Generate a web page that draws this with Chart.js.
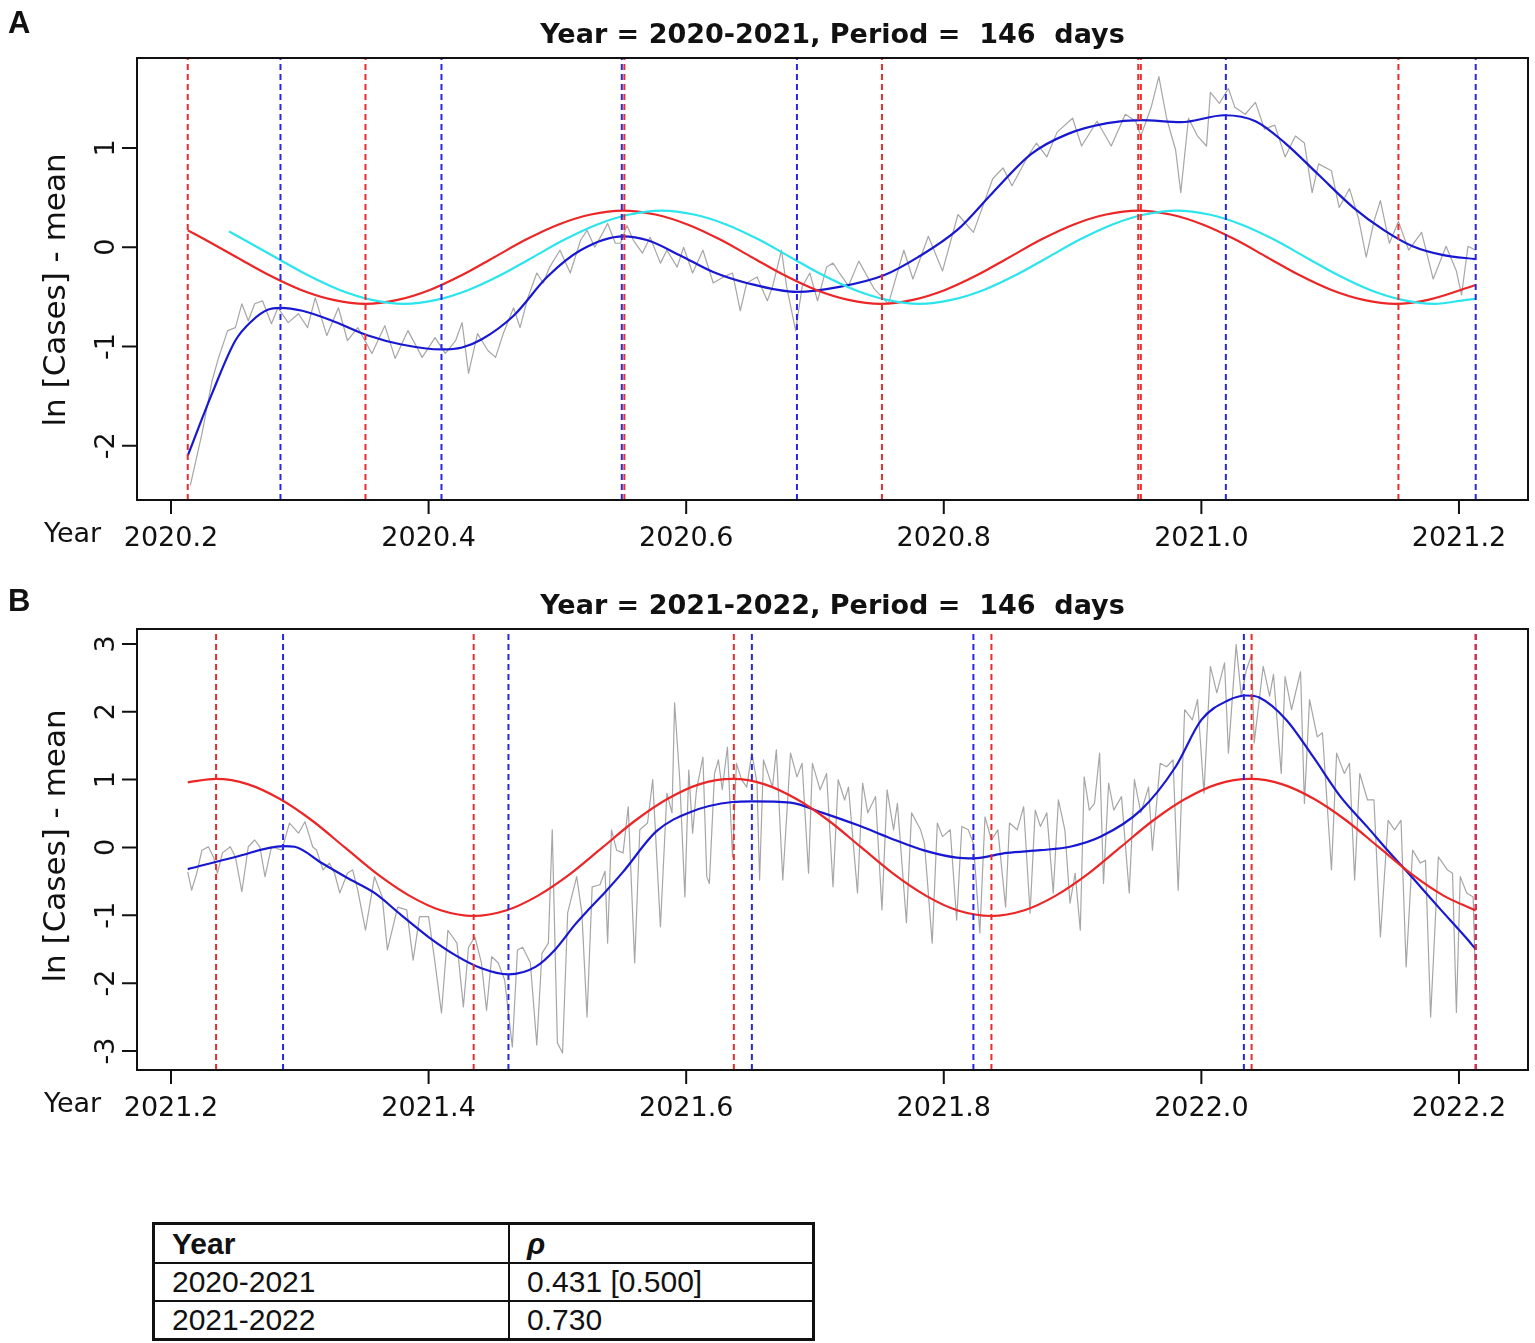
<!DOCTYPE html>
<html>
<head>
<meta charset="utf-8">
<script src="https://cdn.jsdelivr.net/npm/chart.js@4.4.0/dist/chart.umd.min.js"></script>
<style>
  body { margin: 0; background: #fff; width: 1535px; height: 1343px; position: relative; overflow: hidden; }
  canvas { position: absolute; left: 0; }
  #chartA { top: 0; }
  #chartB { top: 575px; }
  #rho { position: absolute; left: 152px; top: 1222px; width: 663px; border-collapse: collapse;
         border: 3px solid #111; font-family: 'Liberation Sans', Arial, sans-serif; font-size: 30px; color: #111; }
  #rho td { border: 2px solid #111; padding: 0 0 0 17px; height: 36px; line-height: 34px; }
  #rho td:first-child { width: 336px; }
  #rho th { border: 2px solid #111; padding: 0 0 0 17px; height: 37px; text-align: left; font-weight: bold; }
</style>
</head>
<body>
<canvas id="chartA" width="1535" height="575"></canvas>
<canvas id="chartB" width="1535" height="575"></canvas>
<table id="rho">
  <tr><th>Year</th><th><i>ρ</i></th></tr>
  <tr><td>2020-2021</td><td>0.431 [0.500]</td></tr>
  <tr><td>2021-2022</td><td>0.730</td></tr>
</table>
<script>
// ---- panel A : 2020-2021 ----
const titleA = 'Year = 2020-2021, Period =  146  days';
const xTicksA = [2020.2, 2020.4, 2020.6, 2020.8, 2021.0, 2021.2];
const yTicksA = [-2, -1, 0, 1];

// daily ln(cases) - mean
const grayA = [
  [2020.215,-2.40],[2020.224,-1.88],[2020.232,-1.34],[2020.237,-1.11],[2020.244,-0.84],[2020.250,-0.81],
  [2020.255,-0.57],[2020.260,-0.74],[2020.265,-0.57],[2020.271,-0.54],[2020.278,-0.77],[2020.283,-0.61],
  [2020.291,-0.76],[2020.299,-0.67],[2020.306,-0.81],[2020.312,-0.51],[2020.321,-0.89],[2020.330,-0.61],
  [2020.337,-0.94],[2020.345,-0.81],[2020.356,-1.07],[2020.366,-0.79],[2020.374,-1.12],[2020.384,-0.84],
  [2020.395,-1.11],[2020.405,-0.91],[2020.413,-1.07],[2020.421,-0.94],[2020.426,-0.76],[2020.431,-1.27],
  [2020.438,-0.87],[2020.446,-1.04],[2020.452,-1.11],[2020.458,-0.87],[2020.466,-0.61],[2020.471,-0.81],
  [2020.477,-0.51],[2020.484,-0.26],[2020.489,-0.36],[2020.494,-0.20],[2020.502,-0.03],[2020.510,-0.26],
  [2020.518,0.07],[2020.523,0.17],[2020.529,0.00],[2020.535,0.14],[2020.539,0.24],[2020.545,0.04],
  [2020.549,0.04],[2020.554,0.22],[2020.559,0.07],[2020.566,-0.06],[2020.572,0.10],[2020.580,-0.16],
  [2020.585,-0.03],[2020.593,-0.20],[2020.598,0.00],[2020.605,-0.26],[2020.613,-0.03],[2020.621,-0.36],
  [2020.629,-0.30],[2020.636,-0.26],[2020.642,-0.64],[2020.647,-0.36],[2020.655,-0.30],[2020.663,-0.54],
  [2020.667,-0.40],[2020.674,-0.03],[2020.678,-0.40],[2020.685,-0.84],[2020.690,-0.40],[2020.696,-0.26],
  [2020.702,-0.54],[2020.709,-0.20],[2020.714,-0.16],[2020.719,-0.26],[2020.726,-0.39],[2020.734,-0.14],
  [2020.746,-0.42],[2020.757,-0.57],[2020.769,-0.03],[2020.776,-0.32],[2020.788,0.11],[2020.799,-0.24],
  [2020.811,0.33],[2020.823,0.15],[2020.838,0.69],[2020.846,0.80],[2020.853,0.62],[2020.865,0.91],
  [2020.872,1.05],[2020.880,0.91],[2020.888,1.16],[2020.900,1.30],[2020.907,1.02],[2020.919,1.27],
  [2020.930,1.02],[2020.941,1.34],[2020.949,1.27],[2020.953,1.12],[2020.961,1.41],[2020.967,1.72],
  [2020.973,1.30],[2020.980,0.98],[2020.984,0.55],[2020.990,1.30],[2020.997,1.12],[2021.004,1.02],
  [2021.007,1.56],[2021.014,1.45],[2021.021,1.60],[2021.026,1.41],[2021.034,1.34],[2021.042,1.46],
  [2021.049,1.19],[2021.057,1.23],[2021.065,0.91],[2021.073,1.12],[2021.080,1.05],[2021.086,0.55],
  [2021.091,0.84],[2021.101,0.77],[2021.107,0.40],[2021.115,0.59],[2021.122,0.29],[2021.128,-0.10],
  [2021.134,0.26],[2021.139,0.47],[2021.146,0.04],[2021.153,0.26],[2021.161,-0.03],[2021.171,0.15],
  [2021.180,-0.32],[2021.190,0.01],[2021.198,-0.24],[2021.202,-0.48],[2021.207,0.01],[2021.213,-0.03]
];

// smooth fit (blue)
const smoothA = [
  [2020.213,-2.10],[2020.232,-1.47],[2020.250,-0.94],[2020.263,-0.74],[2020.275,-0.63],[2020.285,-0.61],
  [2020.302,-0.64],[2020.327,-0.75],[2020.353,-0.89],[2020.379,-0.98],[2020.410,-1.03],[2020.426,-1.01],
  [2020.441,-0.93],[2020.466,-0.69],[2020.492,-0.30],[2020.518,-0.03],[2020.551,0.11],[2020.570,0.07],
  [2020.595,-0.08],[2020.621,-0.25],[2020.647,-0.36],[2020.686,-0.45],[2020.719,-0.40],[2020.754,-0.28],
  [2020.780,-0.10],[2020.811,0.18],[2020.838,0.55],[2020.868,0.94],[2020.896,1.14],[2020.927,1.25],
  [2020.953,1.28],[2020.984,1.26],[2021.018,1.33],[2021.042,1.27],[2021.065,1.05],[2021.091,0.73],
  [2021.118,0.40],[2021.142,0.17],[2021.164,0.01],[2021.188,-0.08],[2021.213,-0.12]
];

// cosinor fit (red)
const cosA = [
  [2020.213,0.17],[2020.226,0.08],[2020.251,-0.10],[2020.276,-0.28],[2020.301,-0.43],[2020.326,-0.53],
  [2020.351,-0.57],[2020.376,-0.53],[2020.401,-0.43],[2020.426,-0.28],[2020.451,-0.10],[2020.476,0.08],
  [2020.501,0.23],[2020.526,0.33],[2020.551,0.37],[2020.576,0.33],[2020.601,0.23],[2020.626,0.08],
  [2020.651,-0.10],[2020.676,-0.28],[2020.701,-0.43],[2020.726,-0.53],[2020.751,-0.57],[2020.776,-0.53],
  [2020.801,-0.43],[2020.826,-0.28],[2020.851,-0.10],[2020.876,0.08],[2020.901,0.23],[2020.926,0.33],
  [2020.951,0.37],[2020.976,0.33],[2021.001,0.23],[2021.026,0.08],[2021.051,-0.10],[2021.076,-0.28],
  [2021.101,-0.43],[2021.126,-0.53],[2021.151,-0.57],[2021.176,-0.53],[2021.213,-0.38]
];

// second cosinor (cyan)
const cos2A = [
  [2020.245,0.16],[2020.256,0.08],[2020.281,-0.10],[2020.306,-0.28],[2020.331,-0.43],[2020.356,-0.53],
  [2020.381,-0.57],[2020.406,-0.53],[2020.431,-0.43],[2020.456,-0.28],[2020.481,-0.10],[2020.506,0.08],
  [2020.531,0.23],[2020.556,0.33],[2020.581,0.37],[2020.606,0.33],[2020.631,0.23],[2020.656,0.08],
  [2020.681,-0.10],[2020.706,-0.28],[2020.731,-0.43],[2020.756,-0.53],[2020.781,-0.57],[2020.806,-0.53],
  [2020.831,-0.43],[2020.856,-0.28],[2020.881,-0.10],[2020.906,0.08],[2020.931,0.23],[2020.956,0.33],
  [2020.981,0.37],[2021.006,0.33],[2021.031,0.23],[2021.056,0.08],[2021.081,-0.10],[2021.106,-0.28],
  [2021.131,-0.43],[2021.156,-0.53],[2021.181,-0.57],[2021.206,-0.53],[2021.213,-0.52]
];

const redLinesA = [2020.213, 2020.351, 2020.552, 2020.752, 2020.951, 2020.953, 2021.153];
const blueLinesA = [2020.285, 2020.410, 2020.550, 2020.686, 2021.019, 2021.213];

// ---- panel B : 2021-2022 ----
const titleB = 'Year = 2021-2022, Period =  146  days';
const xTicksB = [2021.2, 2021.4, 2021.6, 2021.8, 2022.0, 2022.2];
const yTicksB = [-3, -2, -1, 0, 1, 2, 3];

const grayB = [
  [2021.213,-0.36],[2021.216,-0.63],[2021.220,-0.38],[2021.224,-0.04],[2021.229,0.01],[2021.233,-0.14],
  [2021.236,-0.38],[2021.240,-0.08],[2021.246,0.01],[2021.250,-0.14],[2021.255,-0.65],[2021.260,0.01],
  [2021.265,0.11],[2021.269,0.01],[2021.273,-0.43],[2021.278,0.01],[2021.286,-0.04],[2021.292,0.36],
  [2021.299,0.21],[2021.304,0.38],[2021.310,0.01],[2021.313,-0.04],[2021.318,-0.33],[2021.323,-0.23],
  [2021.327,-0.38],[2021.331,-0.67],[2021.337,-0.38],[2021.341,-0.33],[2021.345,-0.63],[2021.351,-1.22],
  [2021.358,-0.43],[2021.364,-0.73],[2021.368,-1.51],[2021.376,-0.88],[2021.383,-0.92],[2021.388,-1.66],
  [2021.393,-1.02],[2021.400,-1.02],[2021.405,-1.70],[2021.410,-2.44],[2021.415,-1.22],[2021.422,-1.41],
  [2021.427,-2.35],[2021.431,-1.47],[2021.436,-1.32],[2021.441,-1.70],[2021.445,-2.40],[2021.449,-1.61],
  [2021.454,-1.70],[2021.459,-1.95],[2021.465,-2.94],[2021.469,-1.51],[2021.473,-1.47],[2021.479,-1.70],
  [2021.484,-2.91],[2021.488,-1.56],[2021.493,-1.41],[2021.496,0.26],[2021.500,-2.88],[2021.504,-3.03],
  [2021.508,-0.96],[2021.515,-0.43],[2021.519,-0.96],[2021.523,-2.50],[2021.527,-0.58],[2021.533,-0.55],
  [2021.537,-0.35],[2021.539,-1.41],[2021.542,0.26],[2021.546,-0.04],[2021.551,-0.08],[2021.555,0.60],
  [2021.560,-1.70],[2021.564,0.26],[2021.570,0.36],[2021.574,1.00],[2021.580,-1.17],[2021.585,0.80],
  [2021.589,0.51],[2021.591,2.13],[2021.595,1.00],[2021.599,-0.73],[2021.602,1.14],[2021.605,0.21],
  [2021.608,0.85],[2021.613,1.33],[2021.616,-0.43],[2021.618,-0.53],[2021.622,1.09],[2021.625,1.29],
  [2021.628,0.85],[2021.632,1.48],[2021.636,-0.14],[2021.639,1.24],[2021.643,1.00],[2021.647,0.89],
  [2021.651,1.39],[2021.655,0.95],[2021.657,-0.48],[2021.660,1.29],[2021.667,0.89],[2021.670,1.44],
  [2021.675,-0.48],[2021.681,1.39],[2021.686,1.04],[2021.690,1.24],[2021.695,-0.38],[2021.698,1.24],
  [2021.704,0.85],[2021.709,1.09],[2021.714,-0.58],[2021.718,1.00],[2021.723,0.70],[2021.726,0.89],
  [2021.733,-0.67],[2021.737,0.95],[2021.741,0.51],[2021.747,0.75],[2021.752,-0.92],[2021.756,0.85],
  [2021.761,0.26],[2021.764,0.65],[2021.771,-1.11],[2021.775,0.51],[2021.782,0.26],[2021.785,0.06],
  [2021.791,-1.41],[2021.795,0.36],[2021.799,0.16],[2021.805,0.26],[2021.810,-1.07],[2021.814,0.31],
  [2021.819,0.26],[2021.823,0.06],[2021.828,-1.26],[2021.832,0.45],[2021.837,0.11],[2021.842,0.26],
  [2021.848,-0.88],[2021.851,0.36],[2021.857,0.26],[2021.862,0.60],[2021.867,-0.97],[2021.871,0.55],
  [2021.875,0.31],[2021.880,0.51],[2021.885,-0.67],[2021.889,0.70],[2021.894,0.26],[2021.898,-0.82],
  [2021.902,-0.38],[2021.906,-1.22],[2021.909,1.04],[2021.913,0.55],[2021.917,0.65],[2021.921,1.39],
  [2021.924,-0.53],[2021.928,0.95],[2021.932,0.55],[2021.938,0.75],[2021.944,-0.67],[2021.948,1.00],
  [2021.953,0.51],[2021.959,0.89],[2021.962,-0.04],[2021.968,1.24],[2021.973,1.19],[2021.978,1.29],
  [2021.982,-0.63],[2021.987,2.03],[2021.993,1.88],[2021.997,2.18],[2022.002,0.80],[2022.007,2.67],
  [2022.012,2.28],[2022.018,2.72],[2022.021,1.39],[2022.027,2.99],[2022.031,2.23],[2022.035,2.62],
  [2022.039,2.84],[2022.041,1.54],[2022.048,2.67],[2022.053,2.23],[2022.056,2.55],[2022.062,1.09],
  [2022.065,2.52],[2022.070,2.03],[2022.077,2.59],[2022.080,0.65],[2022.084,2.18],[2022.090,1.63],
  [2022.094,1.69],[2022.101,-0.33],[2022.105,1.39],[2022.111,1.09],[2022.115,1.24],[2022.119,-0.48],
  [2022.123,1.09],[2022.129,0.70],[2022.134,0.70],[2022.139,-1.32],[2022.145,0.40],[2022.150,0.26],
  [2022.155,0.40],[2022.159,-1.76],[2022.164,-0.04],[2022.170,-0.23],[2022.174,-0.19],[2022.178,-2.50],
  [2022.184,-0.14],[2022.191,-0.33],[2022.195,-0.38],[2022.198,-2.43],[2022.201,-0.43],[2022.206,-0.67],
  [2022.211,-0.73],[2022.213,-2.10]
];

const smoothB = [
  [2021.213,-0.32],[2021.250,-0.14],[2021.287,0.02],[2021.296,0.01],[2021.317,-0.23],[2021.337,-0.45],
  [2021.358,-0.67],[2021.379,-1.00],[2021.400,-1.32],[2021.421,-1.59],[2021.441,-1.78],[2021.462,-1.87],
  [2021.483,-1.76],[2021.498,-1.51],[2021.514,-1.13],[2021.525,-0.90],[2021.537,-0.66],[2021.551,-0.36],
  [2021.577,0.24],[2021.603,0.52],[2021.636,0.67],[2021.651,0.68],[2021.681,0.66],[2021.706,0.51],
  [2021.733,0.33],[2021.758,0.14],[2021.784,-0.04],[2021.810,-0.15],[2021.823,-0.16],[2021.849,-0.08],
  [2021.875,-0.04],[2021.898,0.01],[2021.922,0.16],[2021.953,0.55],[2021.980,1.19],[2022.000,1.88],
  [2022.021,2.17],[2022.035,2.24],[2022.045,2.21],[2022.066,1.88],[2022.087,1.33],[2022.108,0.75],
  [2022.129,0.30],[2022.144,-0.03],[2022.165,-0.47],[2022.186,-0.92],[2022.205,-1.32],[2022.213,-1.50]
];

const cosB = [
  [2021.213,0.96],[2021.235,1.01],[2021.260,0.93],[2021.285,0.71],[2021.310,0.39],[2021.335,0.00],
  [2021.360,-0.39],[2021.385,-0.71],[2021.410,-0.93],[2021.435,-1.01],[2021.460,-0.93],[2021.485,-0.71],
  [2021.510,-0.39],[2021.535,0.00],[2021.560,0.39],[2021.585,0.71],[2021.610,0.93],[2021.636,1.01],
  [2021.661,0.93],[2021.686,0.71],[2021.711,0.39],[2021.736,0.00],[2021.761,-0.39],[2021.786,-0.71],
  [2021.811,-0.93],[2021.837,-1.01],[2021.862,-0.93],[2021.887,-0.71],[2021.912,-0.39],[2021.937,0.00],
  [2021.962,0.39],[2021.987,0.71],[2022.012,0.93],[2022.038,1.01],[2022.063,0.93],[2022.088,0.71],
  [2022.113,0.39],[2022.138,0.00],[2022.163,-0.39],[2022.188,-0.71],[2022.213,-0.93]
];

const redLinesB = [2021.235, 2021.435, 2021.637, 2021.837, 2022.039, 2022.213];
const blueLinesB = [2021.287, 2021.462, 2021.651, 2021.823, 2022.033, 2022.213];

const GRAY = '#a6a6a6', BLUE = '#1818d2', RED = '#ec2626', CYAN = '#2ce4ec', DRED = '#ee2a2a', DBLUE = '#2626e8';

function toXY(pairs) {
    return pairs.map(p => ({ x: p[0], y: p[1] }));
}

function vline(x, color, yMin, yMax) {
    return {
        data: [{ x: x, y: yMin }, { x: x, y: yMax }],
        borderColor: color, borderWidth: 2, borderDash: [6, 4], order: 0
    };
}

function curve(pairs, color, width, order) {
    return {
        data: toXY(pairs), borderColor: color, borderWidth: width,
        cubicInterpolationMode: 'monotone', order: order
    };
}

// draws the R-style frame, ticks and labels around the plot region
const rFrame = {
    id: 'rFrame',
    afterDraw(chart, args, o) {
        const ctx = chart.ctx, a = chart.chartArea;
        const xs = chart.scales.x, ys = chart.scales.y;
        ctx.save();
        ctx.strokeStyle = '#111';
        ctx.fillStyle = '#111';
        ctx.lineWidth = 2;
        ctx.strokeRect(a.left, a.top, a.right - a.left, a.bottom - a.top);

        // x axis
        const x0 = xs.getPixelForValue(o.xTicks[0]), x1 = xs.getPixelForValue(o.xTicks[o.xTicks.length - 1]);
        ctx.beginPath();
        ctx.moveTo(x0, a.bottom); ctx.lineTo(x1, a.bottom);
        o.xTicks.forEach(v => {
            const px = xs.getPixelForValue(v);
            ctx.moveTo(px, a.bottom); ctx.lineTo(px, a.bottom + 14);
        });
        ctx.stroke();
        ctx.font = '27px "DejaVu Sans", sans-serif';
        ctx.textAlign = 'center';
        ctx.textBaseline = 'alphabetic';
        o.xTicks.forEach(v => ctx.fillText(v.toFixed(1), xs.getPixelForValue(v), a.bottom + 46));
        ctx.textAlign = 'left';
        ctx.fillText('Year', 44, a.bottom + 42);

        // y axis
        ctx.beginPath();
        o.yTicks.forEach(v => {
            const py = ys.getPixelForValue(v);
            ctx.moveTo(a.left, py); ctx.lineTo(a.left - 15, py);
        });
        ctx.stroke();
        ctx.textAlign = 'center';
        o.yTicks.forEach(v => {
            ctx.save();
            ctx.translate(114, ys.getPixelForValue(v));
            ctx.rotate(-Math.PI / 2);
            ctx.fillText(String(v), 0, 0);
            ctx.restore();
        });
        ctx.save();
        ctx.font = '31px "DejaVu Sans", sans-serif';
        ctx.translate(65, o.yTitleY);
        ctx.rotate(-Math.PI / 2);
        ctx.fillText('ln [Cases] - mean', 0, 0);
        ctx.restore();

        // title and panel letter
        ctx.font = 'bold 27px "DejaVu Sans", sans-serif';
        ctx.fillText(o.title, (a.left + a.right) / 2, a.top - 15);
        ctx.font = 'bold 31px "Liberation Sans", Arial, sans-serif';
        ctx.textAlign = 'left';
        ctx.fillText(o.letter, 8, o.letterY);
        ctx.restore();
    }
};

function makeChart(id, cfg) {
    const datasets = [];
    cfg.redLines.forEach(x => datasets.push(vline(x, DRED, cfg.yMin, cfg.yMax)));
    cfg.blueLines.forEach(x => datasets.push(vline(x, DBLUE, cfg.yMin, cfg.yMax)));
    if (cfg.cos2) datasets.push(curve(cfg.cos2, CYAN, 2.2, 1));
    datasets.push(curve(cfg.cos, RED, 2.2, 2));
    datasets.push(curve(cfg.smooth, BLUE, 2.2, 3));
    datasets.push({ data: toXY(cfg.gray), borderColor: GRAY, borderWidth: 1.2, borderJoinStyle: 'round', order: 4 });

    return new Chart(document.getElementById(id), {
        type: 'line',
        data: { datasets: datasets },
        plugins: [rFrame],
        options: {
            responsive: false,
            animation: false,
            events: [],
            layout: { padding: cfg.padding },
            elements: { point: { radius: 0 }, line: { fill: false } },
            scales: {
                x: { type: 'linear', min: cfg.xMin, max: cfg.xMax, display: false },
                y: { type: 'linear', min: cfg.yMin, max: cfg.yMax, display: false }
            },
            plugins: {
                legend: { display: false },
                tooltip: { enabled: false },
                rFrame: {
                    title: cfg.title, letter: cfg.letter, letterY: cfg.letterY,
                    xTicks: cfg.xTicks, yTicks: cfg.yTicks, yTitleY: cfg.yTitleY
                }
            }
        }
    });
}

makeChart('chartA', {
    title: titleA, letter: 'A', letterY: 33, yTitleY: 290,
    xTicks: xTicksA, yTicks: yTicksA,
    xMin: 2020.1736, xMax: 2021.2536, yMin: -2.547, yMax: 1.907,
    padding: { left: 137, top: 58, right: 7, bottom: 75 },
    gray: grayA, smooth: smoothA, cos: cosA, cos2: cos2A,
    redLines: redLinesA, blueLines: blueLinesA
});

makeChart('chartB', {
    title: titleB, letter: 'B', letterY: 36, yTitleY: 271,
    xTicks: xTicksB, yTicks: yTicksB,
    xMin: 2021.1736, xMax: 2022.2536, yMin: -3.28, yMax: 3.22,
    padding: { left: 137, top: 54, right: 7, bottom: 80 },
    gray: grayB, smooth: smoothB, cos: cosB, cos2: null,
    redLines: redLinesB, blueLines: blueLinesB
});
</script>
</body>
</html>
